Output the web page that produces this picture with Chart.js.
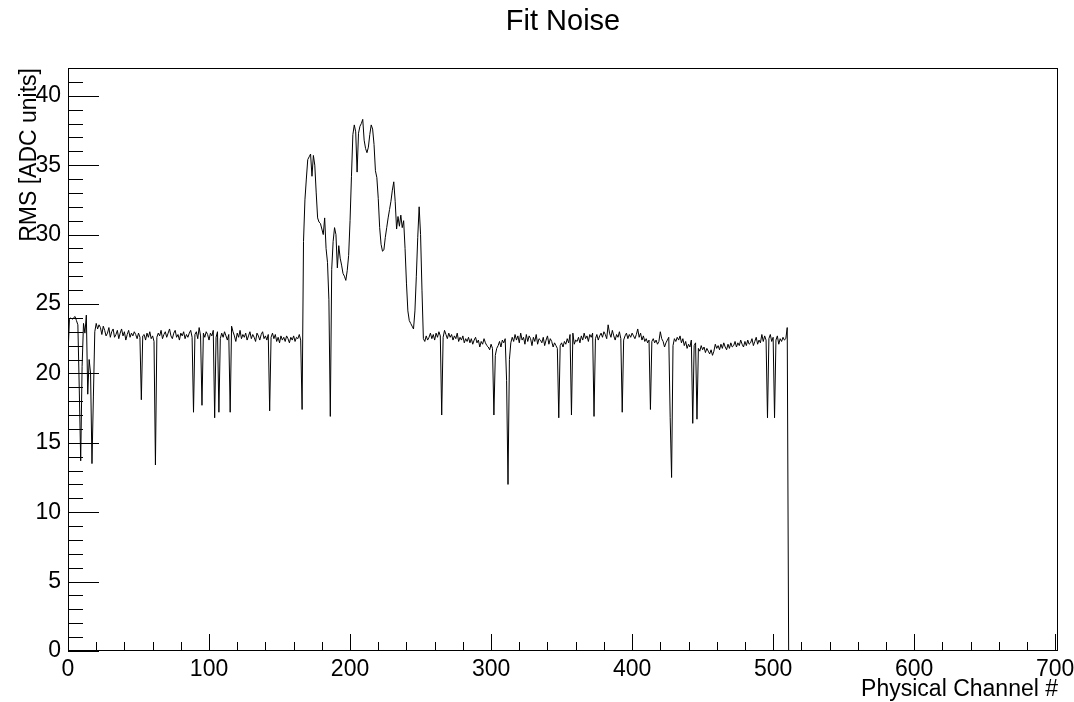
<!DOCTYPE html>
<html>
<head>
<meta charset="utf-8">
<script src="https://cdn.jsdelivr.net/npm/chart.js@4"></script>
<style>
  html, body { margin: 0; padding: 0; background: #fff; }
  #wrap { width: 1074px; height: 702px; position: relative; }
</style>
</head>
<body>
<div id="wrap"><canvas id="fitNoiseChart"></canvas></div>
<script>
// RMS per physical channel (channels 0..511)
const rmsValues = [
    21.3, 23.9, 24.0, 23.9, 24.0, 24.1, 23.8, 23.5, 18.8, 13.7, 20.5, 23.6, 22.9, 24.2, 18.5, 21.0,
    20.0, 13.5, 18.3, 23.0, 23.6, 23.2, 23.5, 23.3, 22.8, 23.4, 23.1, 22.7, 22.9, 23.3, 22.6, 23.0,
    23.2, 22.6, 22.8, 23.1, 22.5, 22.9, 23.2, 22.7, 23.0, 22.4, 22.8, 23.1, 22.6, 22.9, 22.7, 23.0,
    22.8, 22.5, 22.9, 22.6, 18.1, 22.7, 22.8, 22.4, 22.9, 22.6, 23.0, 22.5, 22.7, 22.3, 13.4, 22.6,
    22.9, 22.7, 23.1, 22.5, 22.8, 23.0, 22.6, 22.9, 23.2, 22.7, 22.5, 22.9, 23.1, 22.6, 22.8, 22.4,
    22.9, 22.7, 23.0, 22.5, 22.8, 22.6, 22.9, 23.1, 22.6, 17.2, 22.8, 23.0, 22.5, 23.3, 22.7, 17.7,
    22.9, 22.6, 23.0, 22.8, 22.4, 22.9, 22.7, 23.1, 16.8, 22.6, 23.0, 17.2, 22.5, 22.9, 22.6, 23.0,
    22.7, 22.4, 22.8, 17.2, 23.4, 23.0, 22.7, 22.3, 22.9, 22.6, 23.1, 22.5, 22.8, 22.6, 22.9, 22.4,
    22.7, 23.0, 22.5, 22.8, 22.6, 22.3, 22.9, 22.7, 22.4, 22.8, 23.0, 22.5, 22.7, 22.4, 22.8, 17.3,
    22.6, 22.9, 22.5, 22.8, 22.3, 22.6, 22.2, 22.7, 22.4, 22.6, 22.3, 22.7, 22.5, 22.2, 22.6, 22.4,
    22.7, 22.3, 22.6, 22.5, 22.8, 22.4, 17.4, 29.5, 32.5, 34.0, 35.4, 35.6, 35.8, 34.2, 35.7, 35.0,
    33.0, 31.2, 30.9, 30.8, 30.4, 30.0, 31.2, 29.0, 28.0, 25.3, 16.9, 27.5, 29.5, 30.5, 30.0, 27.6,
    29.2, 28.3, 27.8, 27.2, 27.0, 26.7, 27.4, 28.5, 31.0, 34.2, 37.2, 37.9, 37.4, 34.5, 37.3, 37.8,
    38.0, 38.3, 36.8, 36.2, 35.9, 36.3, 37.2, 37.9, 37.6, 36.5, 34.6, 34.1, 32.6, 30.5, 29.3, 28.8,
    28.9, 29.8, 30.5, 31.2, 31.8, 32.4, 33.2, 33.8, 32.4, 30.4, 31.3, 30.6, 31.4, 30.5, 31.0, 29.0,
    26.5, 24.5, 23.8, 23.6, 23.4, 23.2, 24.5, 27.0, 29.8, 32.0, 30.0, 26.0, 22.5, 22.3, 22.7, 22.4,
    22.6, 22.9, 22.5, 22.8, 22.4, 22.9, 22.6, 23.0, 22.7, 17.0, 22.6, 23.1, 22.8, 22.5, 22.9, 22.6,
    22.8, 22.4, 22.7, 22.5, 22.9, 22.3, 22.6, 22.4, 22.7, 22.2, 22.5, 22.3, 22.6, 22.2, 22.5, 22.1,
    22.4, 22.6, 22.2, 22.4, 21.9, 22.3, 22.1, 22.5, 22.2, 22.0, 21.9, 21.7, 22.1, 21.8, 17.0, 21.3,
    21.8, 22.0, 22.3, 21.9, 22.4, 22.2, 22.5, 19.5, 12.0, 21.0, 22.2, 22.6, 22.3, 22.8, 22.4, 22.7,
    22.2, 22.9, 22.4, 22.6, 22.1, 22.8, 22.3, 22.7, 22.5, 22.0, 22.6, 22.3, 22.8, 22.1, 22.5, 22.4,
    22.2, 22.6, 22.0, 22.4, 22.7, 22.1, 22.5, 22.3, 21.9, 22.2, 22.0, 21.8, 16.8, 22.0, 22.2, 21.9,
    22.3, 22.1, 22.5, 22.2, 22.8, 17.0, 22.9, 22.1, 22.4, 22.3, 22.6, 22.2, 22.7, 22.4, 22.9, 22.5,
    22.7, 22.3, 22.8, 22.6, 22.9, 16.9, 22.5, 22.8, 22.4, 22.7, 22.9, 22.6, 23.0, 22.8, 22.5, 23.5,
    22.9, 22.6, 23.1, 22.7, 22.4, 22.8, 22.6, 23.0, 22.5, 17.2, 22.4, 22.7, 22.9, 22.5, 22.8, 22.6,
    22.9, 22.7, 22.5, 22.8, 23.2, 22.6, 22.9, 22.4, 22.7, 22.3, 22.5, 22.2, 22.4, 17.4, 22.3, 22.5,
    22.2, 22.4, 22.1, 22.3, 23.0, 22.5, 22.3, 21.9, 22.2, 22.4, 22.6, 16.8, 12.5, 22.0, 22.5, 22.3,
    22.6, 22.4, 22.7, 22.2, 22.5, 22.0, 22.3, 21.8, 22.1, 21.9, 22.4, 16.4, 22.0, 22.2, 16.7, 21.8,
    21.6, 22.0, 21.7, 21.9, 21.5, 21.8, 21.6, 21.4, 21.7, 21.3, 21.6, 22.1, 21.8, 22.0, 21.7, 22.1,
    21.8, 22.2, 21.9, 21.7, 22.1, 21.8, 22.2, 21.9, 22.0, 22.3, 21.9, 22.2, 22.0, 22.4, 22.1, 21.9,
    22.3, 22.0, 22.4, 22.1, 22.2, 22.5, 22.0, 22.3, 22.6, 22.1, 22.4, 22.2, 22.8, 22.3, 22.7, 22.4,
    16.8, 22.5, 22.8, 22.3, 22.6, 16.8, 22.4, 22.7, 22.1, 22.5, 22.3, 22.6, 22.4, 22.5, 23.3, 0
];

const xTickLabels = [0, 100, 200, 300, 400, 500, 600, 700];
const yTickLabels = [0, 5, 10, 15, 20, 25, 30, 35, 40];

const X_MAX = 702;
const Y_MAX = 42;
const FONT = '"Liberation Sans", Arial, Helvetica, sans-serif';

// ROOT-like frame, inward ticks, labels and titles
const rootFrame = {
    id: 'rootFrame',
    afterDraw(chart) {
        const { ctx, chartArea: a, scales: { x, y } } = chart;
        ctx.save();
        ctx.strokeStyle = '#000';
        ctx.lineWidth = 1;

        ctx.strokeRect(Math.round(a.left) + 0.5, Math.round(a.top) + 0.5,
            Math.round(a.width) - 1, Math.round(a.height) - 1);

        ctx.beginPath();
        for (let v = 0; v <= X_MAX; v += 20) {
            const px = Math.round(x.getPixelForValue(v)) + 0.5;
            const len = v % 100 === 0 ? 17 : 9;
            ctx.moveTo(px, a.bottom);
            ctx.lineTo(px, a.bottom - len);
        }
        for (let v = 0; v <= Y_MAX; v += 1) {
            const py = Math.round(y.getPixelForValue(v)) + 0.5;
            const len = v % 5 === 0 ? 31 : 15;
            ctx.moveTo(a.left, py);
            ctx.lineTo(a.left + len, py);
        }
        ctx.stroke();

        ctx.fillStyle = '#000';
        ctx.font = '23px ' + FONT;
        ctx.textAlign = 'center';
        ctx.textBaseline = 'alphabetic';
        xTickLabels.forEach(v => {
            ctx.fillText(String(v), x.getPixelForValue(v), a.bottom + 25);
        });
        ctx.textAlign = 'right';
        ctx.textBaseline = 'middle';
        yTickLabels.forEach(v => {
            ctx.fillText(String(v), a.left - 7, y.getPixelForValue(v));
        });

        ctx.textAlign = 'right';
        ctx.textBaseline = 'alphabetic';
        ctx.fillText('Physical Channel #', a.right, a.bottom + 45);

        ctx.save();
        ctx.translate(36, a.top);
        ctx.rotate(-Math.PI / 2);
        ctx.textAlign = 'right';
        ctx.fillText('RMS [ADC units]', 0, 0);
        ctx.restore();

        ctx.font = '29px ' + FONT;
        ctx.textAlign = 'center';
        ctx.fillText('Fit Noise', 563, 30);
        ctx.restore();
    }
};

const ctx = document.getElementById('fitNoiseChart').getContext('2d');
new Chart(ctx, {
    type: 'line',
    data: {
        datasets: [{
            label: 'Fit Noise',
            data: rmsValues.map((v, i) => ({ x: i, y: v })),
            borderColor: '#000',
            borderWidth: 1,
            pointRadius: 0,
            tension: 0,
            fill: false
        }]
    },
    options: {
        responsive: true,
        maintainAspectRatio: false,
        animation: false,
        layout: { padding: { left: 68, top: 68, right: 16, bottom: 51 } },
        scales: {
            x: { type: 'linear', min: 0, max: X_MAX, display: false },
            y: { min: 0, max: Y_MAX, display: false }
        },
        plugins: {
            legend: { display: false },
            tooltip: { enabled: false },
            title: { display: false }
        }
    },
    plugins: [rootFrame]
});
</script>
</body>
</html>
